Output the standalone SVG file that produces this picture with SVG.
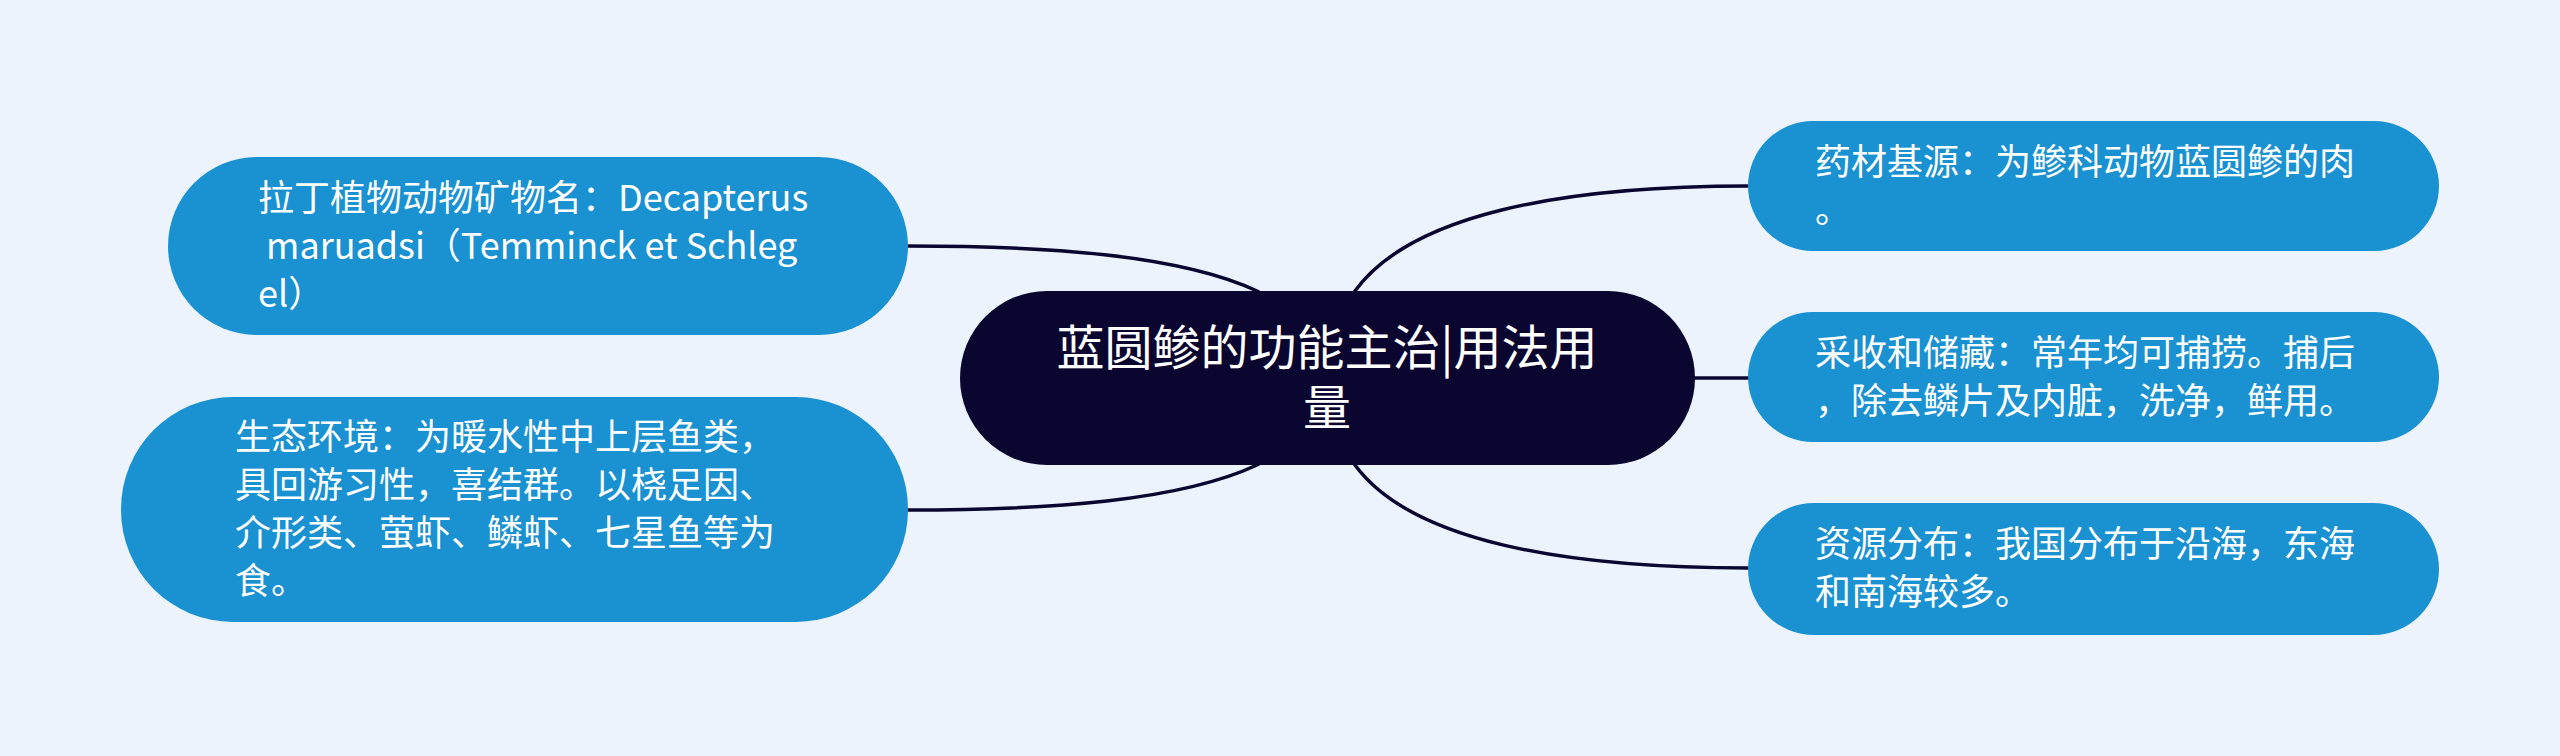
<svg xmlns="http://www.w3.org/2000/svg" width="2560" height="756" viewBox="0 0 2560 756">
<style>
.bg{fill:#edf3fd}
.sub{fill:#1a91d1}
.root{fill:#0b0630}
.t{font-family:"Noto Sans CJK SC","Microsoft YaHei",sans-serif;font-size:36px;fill:#ffffff;white-space:pre}
.rt{font-family:"Noto Sans CJK SC","Microsoft YaHei",sans-serif;font-size:48px;fill:#ffffff;text-anchor:middle}
.c{fill:none;stroke:#0b0630;stroke-width:3.5}
</style>
<rect class="bg" x="0" y="0" width="2560" height="756"/>
<g id="connectors">
<path class="c" d="M 907 246 C 1050 246, 1180 255, 1257 291 L 1290 310"/>
<path class="c" d="M 907 510 C 1050 510, 1180 501, 1257 465 L 1290 446"/>
<path class="c" d="M 1748 186 C 1560 186, 1410 215, 1355 291 L 1340 315"/>
<path class="c" d="M 1690 378 L 1750 378"/>
<path class="c" d="M 1748 568 C 1560 568, 1410 540, 1355 465 L 1340 441"/>
</g>
<g id="root">
<rect class="root" x="960" y="291" width="735" height="174" rx="87"/>
<text class="rt" x="1327" y="365">蓝圆鲹的功能主治|用法用<tspan x="1327" dy="60">量</tspan></text>
</g>
<g id="node-latin">
<rect class="sub" x="168" y="157" width="740" height="178" rx="89"/>
<text class="t" x="258" y="211">拉丁植物动物矿物名：Decapterus<tspan x="258" dy="48"> maruadsi（Temminck et Schleg</tspan><tspan x="258" dy="48">el）</tspan></text>
</g>
<g id="node-ecology">
<rect class="sub" x="121" y="397" width="787" height="225" rx="112"/>
<text class="t" x="235" y="450">生态环境：为暖水性中上层鱼类，<tspan x="235" dy="48">具回游习性，喜结群。以桡足因、</tspan><tspan x="235" dy="48">介形类、萤虾、鳞虾、七星鱼等为</tspan><tspan x="235" dy="48">食。</tspan></text>
</g>
<g id="node-source">
<rect class="sub" x="1748" y="121" width="691" height="130" rx="65"/>
<text class="t" x="1815" y="175">药材基源：为鲹科动物蓝圆鲹的肉<tspan x="1815" dy="48">。</tspan></text>
</g>
<g id="node-harvest">
<rect class="sub" x="1748" y="312" width="691" height="130" rx="65"/>
<text class="t" x="1815" y="366">采收和储藏：常年均可捕捞。捕后<tspan x="1815" dy="48">，除去鳞片及内脏，洗净，鲜用。</tspan></text>
</g>
<g id="node-distribution">
<rect class="sub" x="1748" y="503" width="691" height="132" rx="66"/>
<text class="t" x="1815" y="557">资源分布：我国分布于沿海，东海<tspan x="1815" dy="48">和南海较多。</tspan></text>
</g>
</svg>
